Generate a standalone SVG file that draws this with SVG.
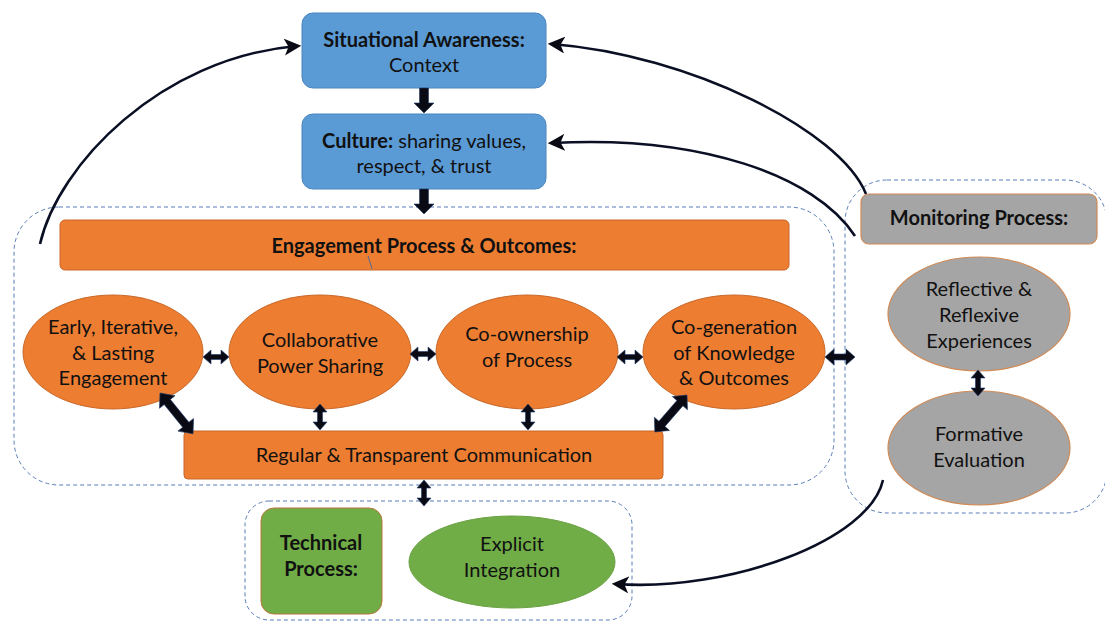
<svg xmlns="http://www.w3.org/2000/svg" xmlns:xlink="http://www.w3.org/1999/xlink" width="1105" height="622" viewBox="0 0 1105 622">
<style>
text{font-family:Lato,"Open Sans","Liberation Sans",sans-serif;font-size:20px;fill:#111;text-anchor:middle}
.b{font-weight:bold}
.blue{fill:#5B9BD5;stroke:#4A86BE;stroke-width:1}
.orange{fill:#ED7D31;stroke:#C8692A;stroke-width:1}
.gray{fill:#A5A5A5;stroke:#D08A55;stroke-width:1.2}
.green{fill:#70AD47;stroke:#B8773A;stroke-width:1}
.greenE{fill:#70AD47;stroke:#6AA043;stroke-width:1}
.dash{fill:none;stroke:#5A7DB8;stroke-width:1;stroke-dasharray:4 3}
.arr{fill:#0a0a14;stroke:#1F3A6B;stroke-width:0.6}
.curve{fill:none;stroke:#0a0f24;stroke-width:2.6}
</style>
<defs>
<marker id="head" viewBox="0 0 12 12" refX="9" refY="6" markerWidth="17" markerHeight="17" markerUnits="userSpaceOnUse" orient="auto">
<path d="M0,0 L12,6 L0,12 L3,6 Z" fill="#0a0a14"/>
</marker>
<path id="dh" d="M0,0 L8,-7 L8,-2.5 L18,-2.5 L18,-7 L26,0 L18,7 L18,2.5 L8,2.5 L8,7 Z"/>
<path id="dd" d="M0,0 L11,-10 L11,-4 L39,-4 L39,-10 L50,0 L39,10 L39,4 L11,4 L11,10 Z"/>
</defs>

<!-- containers -->
<g id="containers">
<rect class="dash" x="14" y="207" width="820" height="278" rx="45"/>
<rect class="dash" x="845" y="180" width="262" height="333" rx="42"/>
<rect class="dash" x="245" y="501" width="387" height="119" rx="24"/>
</g>

<g id="situational">
<rect class="blue" x="302" y="13" width="244" height="75" rx="11"/>
<text x="424" y="47" class="b">Situational Awareness:</text>
<text x="424" y="72">Context</text>
</g>

<g id="culture">
<rect class="blue" x="302" y="114" width="244" height="75" rx="11"/>
<text x="424" y="148"><tspan class="b">Culture:</tspan> sharing values,</text>
<text x="424" y="173">respect, &amp; trust</text>
</g>

<g id="engagement">
<rect class="orange" x="60" y="220" width="729" height="50" rx="5"/>
<text x="424" y="253" class="b">Engagement Process &amp; Outcomes:</text>
<line x1="368" y1="256" x2="372" y2="269" stroke="#4D6B9A" stroke-width="1"/>
</g>

<g id="early">
<ellipse class="orange" cx="113" cy="352" rx="90" ry="57"/>
<text x="113" y="334">Early, Iterative,</text>
<text x="113" y="360">&amp; Lasting</text>
<text x="113" y="385">Engagement</text>
</g>

<g id="collaborative">
<ellipse class="orange" cx="320" cy="352" rx="91" ry="57"/>
<text x="320" y="347">Collaborative</text>
<text x="320" y="373">Power Sharing</text>
</g>

<g id="coownership">
<ellipse class="orange" cx="527" cy="352" rx="91" ry="57"/>
<text x="527" y="341">Co-ownership</text>
<text x="527" y="367">of Process</text>
</g>

<g id="cogeneration">
<ellipse class="orange" cx="734" cy="352" rx="91" ry="57"/>
<text x="734" y="334">Co-generation</text>
<text x="734" y="360">of Knowledge</text>
<text x="734" y="385">&amp; Outcomes</text>
</g>

<g id="communication">
<rect class="orange" x="184" y="431" width="479" height="48" rx="4"/>
<text x="424" y="462">Regular &amp; Transparent Communication</text>
</g>

<g id="technical">
<rect class="green" x="261" y="508" width="121" height="106" rx="13"/>
<text x="321" y="550" class="b">Technical</text>
<text x="321" y="576" class="b">Process:</text>
</g>

<g id="explicit">
<ellipse class="greenE" cx="512" cy="562" rx="103" ry="46"/>
<text x="512" y="551">Explicit</text>
<text x="512" y="577">Integration</text>
</g>

<g id="monitoring">
<rect class="gray" x="861" y="194" width="236" height="50" rx="8"/>
<text x="979" y="225" class="b">Monitoring Process:</text>
</g>

<g id="reflective">
<ellipse class="gray" cx="979" cy="314" rx="91" ry="57"/>
<text x="979" y="296">Reflective &amp;</text>
<text x="979" y="322">Reflexive</text>
<text x="979" y="348">Experiences</text>
</g>

<g id="formative">
<ellipse class="gray" cx="979" cy="448" rx="91" ry="57"/>
<text x="979" y="441">Formative</text>
<text x="979" y="467">Evaluation</text>
</g>

<g id="connectors">
<!-- block down arrows -->
<path class="arr" d="M419.5,88 L428.5,88 L428.5,103 L434,103 L424,113 L414,103 L419.5,103 Z"/>
<path class="arr" d="M419.5,189 L428.5,189 L428.5,204 L434,204 L424,214 L414,204 L419.5,204 Z"/>
<!-- horizontal double arrows -->
<use xlink:href="#dh" class="arr" transform="translate(203,357)"/>
<use xlink:href="#dh" class="arr" transform="translate(410,354)"/>
<use xlink:href="#dh" class="arr" transform="translate(617,357)"/>
<path class="arr" d="M825,357 L834,349 L834,354 L846,354 L846,349 L855,357 L846,365 L846,360 L834,360 L834,365 Z"/>
<!-- vertical double arrows -->
<use xlink:href="#dh" class="arr" transform="translate(320,404) rotate(90)"/>
<use xlink:href="#dh" class="arr" transform="translate(528,404) rotate(90)"/>
<use xlink:href="#dh" class="arr" transform="translate(424,480) rotate(90)"/>
<use xlink:href="#dh" class="arr" transform="translate(978,370) rotate(90)"/>
<!-- diagonal double arrows -->
<use xlink:href="#dd" class="arr" transform="translate(160,393) rotate(51) scale(1.05,1)"/>
<use xlink:href="#dd" class="arr" transform="translate(687,395) rotate(131) scale(0.98,1)"/>
<!-- curved arrows -->
<path class="curve" d="M40,244 C58,165 160,58 297,46" marker-end="url(#head)"/>
<path class="curve" d="M866,194 C840,130 690,55 552,44" marker-end="url(#head)"/>
<path class="curve" d="M855,236 C815,175 700,135 552,143" marker-end="url(#head)"/>
<path class="curve" d="M883,480 C870,540 730,592 616,584" marker-end="url(#head)"/>
</g>
</svg>
